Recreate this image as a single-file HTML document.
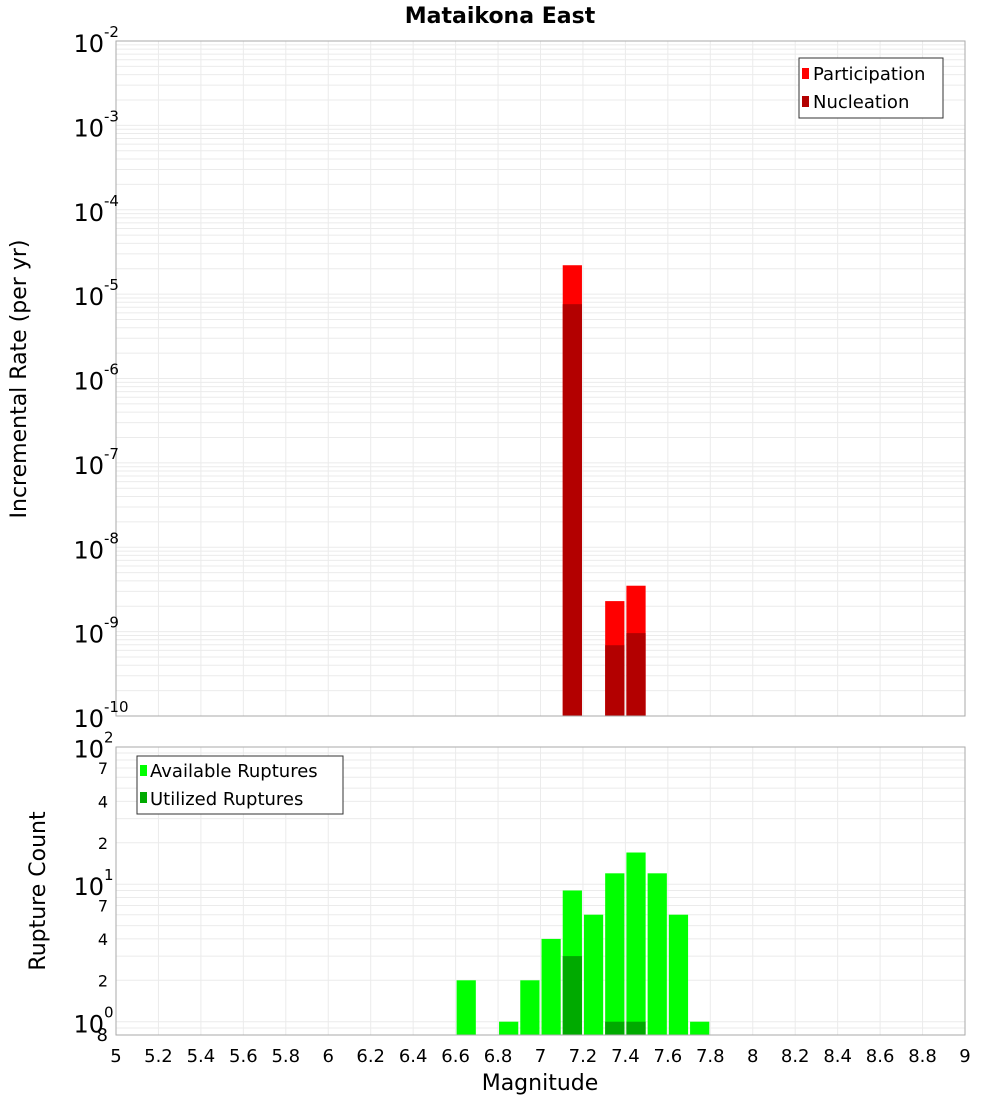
<!DOCTYPE html>
<html><head><meta charset="utf-8"><style>
body{margin:0;background:#fff;font-family:"Liberation Sans","DejaVu Sans",sans-serif}
svg text{font-family:"DejaVu Sans","Liberation Sans",sans-serif}
</style></head><body>
<svg id="c" width="1000" height="1100" xmlns="http://www.w3.org/2000/svg">
<rect width="1000" height="1100" fill="#fff"/>
<text x="500" y="23" text-anchor="middle" font-size="22" font-weight="bold">Mataikona East</text>
<g id="topg"></g><g id="botg"></g>
<text transform="translate(26,379) rotate(-90)" text-anchor="middle" font-size="22">Incremental Rate (per yr)</text>
<text transform="translate(45,891) rotate(-90)" text-anchor="middle" font-size="22">Rupture Count</text>
<text x="540" y="1090" text-anchor="middle" font-size="22">Magnitude</text>
</svg>
<script>
const mags=[6.65,6.75,6.85,6.95,7.05,7.15,7.25,7.35,7.45,7.55,7.65,7.75];
const participation=[0,0,0,0,0,2.2e-5,0,2.3e-9,3.5e-9,0,0,0];
const nucleation=[0,0,0,0,0,7.6e-6,0,6.9e-10,9.6e-10,0,0,0];
const available=[2,0,1,2,4,9,6,12,17,12,6,1];
const utilized=[0,0,0,0,0,3,0,1,1,0,0,0];
const xTicks=[5,5.2,5.4,5.6,5.8,6,6.2,6.4,6.6,6.8,7,7.2,7.4,7.6,7.8,8,8.2,8.4,8.6,8.8,9];
const topDecades=[-10,-9,-8,-7,-6,-5,-4,-3,-2];
const botMinorTicks=[2,4,7,20,40,70];

const NS="http://www.w3.org/2000/svg";
const X0=116,X1=965;
const x=m=>X0+(m-5)/4*(X1-X0);
const yT=v=>41+(-2-Math.log10(v))*84.375;
const yB=v=>746.7+(2-Math.log10(v))*137.5;
function el(p,t,a){const e=document.createElementNS(NS,t);for(const k in a)e.setAttribute(k,a[k]);p.appendChild(e);return e;}
const gTop=document.getElementById('topg'),gBot=document.getElementById('botg');

for(let d=-10;d<-2;d++)for(let k=1;k<10;k++){const y=yT(k*Math.pow(10,d));
 const l=el(gTop,'line',{x1:X0,x2:X1,y1:y,y2:y,stroke:'#ebebeb','stroke-width':1});
 
 }
xTicks.forEach(t=>{const l=el(gTop,'line',{x1:x(t),x2:x(t),y1:41,y2:716,stroke:'#ebebeb'});
 
 });
mags.forEach((m,i)=>{
 if(participation[i]>0){const r=el(gTop,'rect',{x:x(m-0.05)+1,y:yT(participation[i]),width:x(m+0.05)-x(m-0.05)-2,height:716-yT(participation[i]),fill:'#ff0000'});
 
 }
 if(nucleation[i]>0){const r=el(gTop,'rect',{x:x(m-0.05)+1,y:yT(nucleation[i]),width:x(m+0.05)-x(m-0.05)-2,height:716-yT(nucleation[i]),fill:'#b30000'});
 
 }
});
el(gTop,'rect',{x:X0,y:41,width:X1-X0,height:675,fill:'none',stroke:'#aaa'});
topDecades.forEach(d=>{const y=yT(Math.pow(10,d));
 const t=el(gTop,'text',{x:104,y:y+11,'text-anchor':'end','font-size':24});t.textContent='10';
 
 
 const s=el(gTop,'text',{x:104,y:y-4,'font-size':15});s.textContent=String(d);
 
 });
const lg=el(gTop,'g',{});


el(lg,'rect',{x:799,y:58,width:144,height:60,fill:'#fff',stroke:'#333'});
el(lg,'rect',{x:802,y:68,width:7,height:11,fill:'#ff0000'});
el(lg,'rect',{x:802,y:96,width:7,height:11,fill:'#b30000'});
let t1=el(lg,'text',{x:813,y:80,'font-size':18});t1.textContent='Participation';
let t2=el(lg,'text',{x:813,y:108,'font-size':18});t2.textContent='Nucleation';

for(let d=-1;d<2;d++)for(let k=1;k<10;k++){const v=k*Math.pow(10,d);if(v<0.8)continue;const y=yB(v);
 const l=el(gBot,'line',{x1:X0,x2:X1,y1:y,y2:y,stroke:'#ebebeb'});
 
 }
xTicks.forEach(t=>{const l=el(gBot,'line',{x1:x(t),x2:x(t),y1:747,y2:1035,stroke:'#ebebeb'});
 
 });
mags.forEach((m,i)=>{
 if(available[i]>0){const r=el(gBot,'rect',{x:x(m-0.05)+1,y:yB(available[i]),width:x(m+0.05)-x(m-0.05)-2,height:1035-yB(available[i]),fill:'#00ff00'});
 
 }
 if(utilized[i]>0){const r=el(gBot,'rect',{x:x(m-0.05)+1,y:yB(utilized[i]),width:x(m+0.05)-x(m-0.05)-2,height:1035-yB(utilized[i]),fill:'#00aa00'});
 
 }
});
el(gBot,'rect',{x:X0,y:747,width:X1-X0,height:288,fill:'none',stroke:'#aaa'});
[0,1,2].forEach(d=>{const y=yB(Math.pow(10,d));
 const t=el(gBot,'text',{x:104,y:y+11,'text-anchor':'end','font-size':24});t.textContent='10';
 
 
 const s=el(gBot,'text',{x:104,y:y-4,'font-size':15});s.textContent=String(d);
 
 });
botMinorTicks.forEach(v=>{const t=el(gBot,'text',{x:108,y:yB(v)+6,'text-anchor':'end','font-size':16});t.textContent=String(v<10?v:v/10);
 
 });
{const t=el(gBot,'text',{x:108,y:yB(0.8)+6,'text-anchor':'end','font-size':18});t.textContent='8';
 
 }
xTicks.forEach(v=>{const t=el(gBot,'text',{x:x(v),y:1062,'text-anchor':'middle','font-size':18});t.textContent=String(v);
 
 });
const lb=el(gBot,'g',{});


el(lb,'rect',{x:137,y:756,width:206,height:58,fill:'#fff',stroke:'#333'});
el(lb,'rect',{x:140,y:765,width:7,height:11,fill:'#00ff00'});
el(lb,'rect',{x:140,y:792,width:7,height:11,fill:'#00aa00'});
let t3=el(lb,'text',{x:150,y:777,'font-size':18});t3.textContent='Available Ruptures';
let t4=el(lb,'text',{x:150,y:805,'font-size':18});t4.textContent='Utilized Ruptures';
</script>
</body></html>
